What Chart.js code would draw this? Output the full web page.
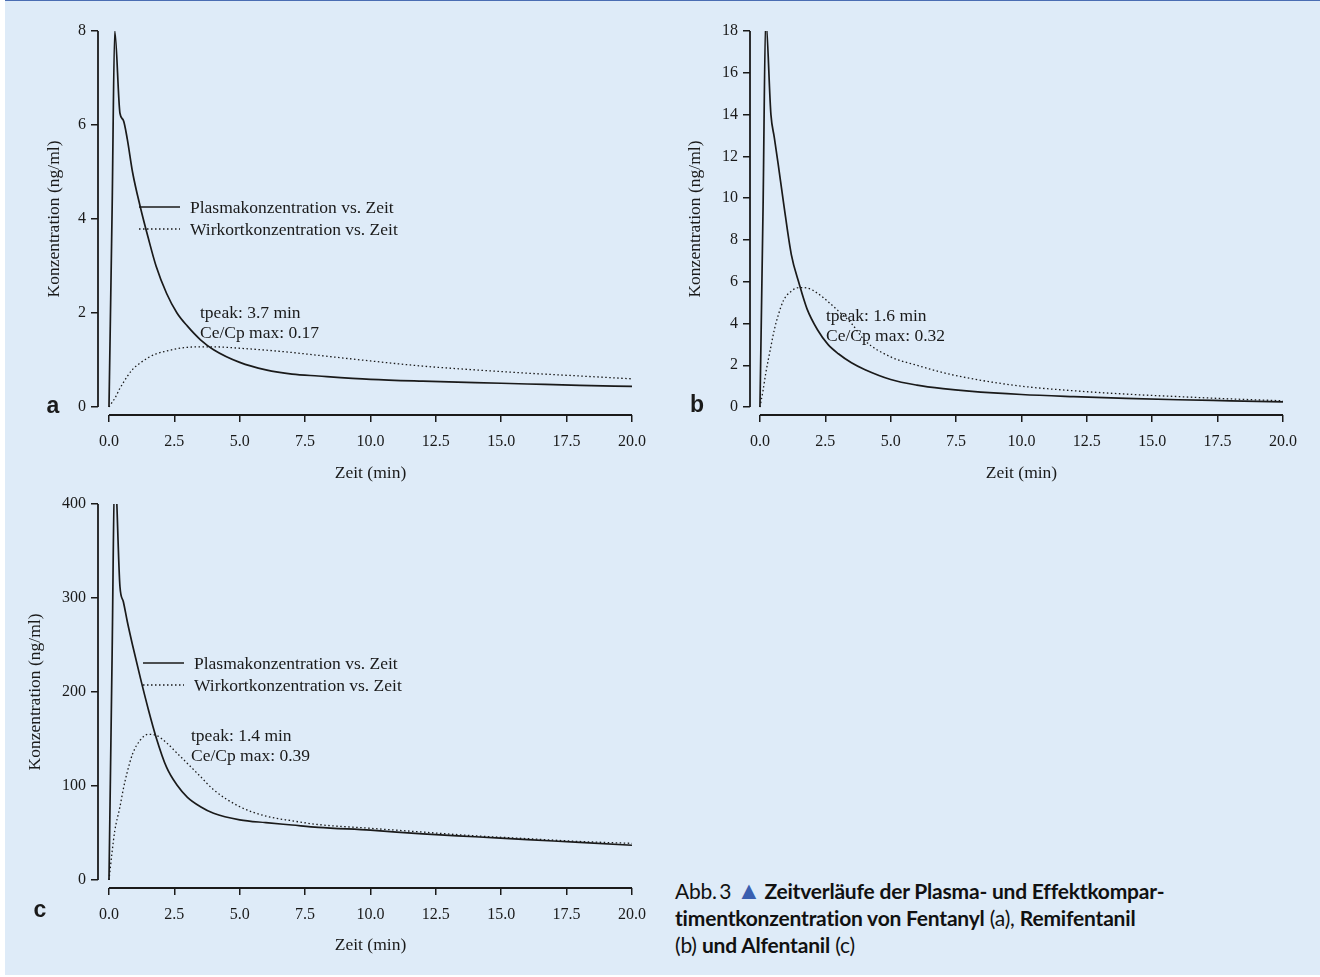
<!DOCTYPE html>
<html>
<head>
<meta charset="utf-8">
<script src="https://cdn.jsdelivr.net/npm/chart.js@4"></script>
<style>
  html, body { margin: 0; padding: 0; background: #fff; }
  #page {
    position: relative; width: 1315px; height: 974px; margin-left: 5px;
    background: #deebf8; border-top: 1px solid #4a6db3; overflow: hidden;
  }
  canvas { position: absolute; }
  #caption {
    position: absolute; left: 670px; top: 876px; width: 600px;
    font-family: Lato, "Noto Sans", sans-serif; font-size: 21px; line-height: 27px;
    color: #111; letter-spacing: -0.2px; white-space: nowrap;
  }
  #caption b { font-weight: 700; }
  #caption .tri { color: #3a5fb0; font-size: 25px; line-height: 20px; letter-spacing: -2px; }
</style>
</head>
<body>
<div id="page">
  <canvas id="chartA" style="left:-5px;top:-1px"></canvas>
  <canvas id="chartB" style="left:655px;top:-1px"></canvas>
  <canvas id="chartC" style="left:-5px;top:479px"></canvas>
  <div id="caption">Abb.&#8201;3 <span class="tri">&#9650;</span> <b>Zeitverläufe der Plasma- und Effektkompar-<br>timentkonzentration von Fentanyl</b> (a), <b>Remifentanil</b><br>(b) <b>und Alfentanil</b> (c)</div>
</div>
<script>
// Zeitpunkte (min), gemeinsam für alle drei Panels
const zeit = [0, 0.12, 0.22, 0.42, 0.55, 0.7, 0.9, 1.2, 1.5, 1.8, 2.2, 2.6, 3.0, 3.5, 4.0, 5.0, 6.0, 7.0, 8.0, 10, 12, 14, 16, 18, 20];

// (a) Fentanyl
const plasmaA  = [0, 4.2, 8.0, 6.25, 6.1, 5.7, 5.0, 4.25, 3.6, 3.0, 2.42, 2.0, 1.72, 1.43, 1.22, 0.95, 0.79, 0.70, 0.66, 0.59, 0.55, 0.52, 0.49, 0.46, 0.44];
const wirkortA = [0, 0.1, 0.18, 0.4, 0.52, 0.65, 0.8, 0.94, 1.05, 1.13, 1.19, 1.24, 1.27, 1.28, 1.28, 1.25, 1.21, 1.16, 1.10, 0.98, 0.87, 0.79, 0.72, 0.66, 0.60];

// (b) Remifentanil
const plasmaB  = [0, 9.6, 18.6, 14.0, 12.9, 11.6, 9.8, 7.3, 5.9, 4.7, 3.7, 3.0, 2.55, 2.12, 1.8, 1.32, 1.05, 0.88, 0.76, 0.60, 0.50, 0.42, 0.35, 0.30, 0.25];
const wirkortB = [0, 0.8, 1.6, 2.9, 3.7, 4.4, 5.1, 5.55, 5.72, 5.7, 5.45, 5.05, 4.6, 4.0, 3.2, 2.4, 2.0, 1.65, 1.38, 1.0, 0.78, 0.62, 0.5, 0.39, 0.30];

// (c) Alfentanil
const plasmaC  = [0, 240, 440, 312, 296, 275, 250, 215, 182, 152, 120, 101, 88, 78, 71, 64, 61, 58.5, 56, 53, 49, 46, 43, 40, 37];
const wirkortC = [0, 30, 52, 78, 97, 115, 134, 149, 155, 154, 146, 135, 124, 110, 96, 78, 68, 63, 59, 55, 51, 47, 44, 41, 39];

// Achsenbeschriftungen
const xTicks = [0, 2.5, 5, 7.5, 10, 12.5, 15, 17.5, 20];
const yTicksA = [0, 2, 4, 6, 8];
const yTicksB = [0, 2, 4, 6, 8, 10, 12, 14, 16, 18];
const yTicksC = [0, 100, 200, 300, 400];

const legendLabels = ['Plasmakonzentration vs. Zeit', 'Wirkortkonzentration vs. Zeit'];
const tpeakTexts = ['tpeak: 3.7 min', 'tpeak: 1.6 min', 'tpeak: 1.4 min'];
const ratioTexts = ['Ce/Cp max: 0.17', 'Ce/Cp max: 0.32', 'Ce/Cp max: 0.39'];

const SERIF = "'Liberation Serif', 'DejaVu Serif', serif";
const INK = '#1a1a1a';

const toPoints = (ys) => ys.map((y, i) => ({ x: zeit[i], y: y }));

// R-artige abgesetzte Achsen, Legende und Beschriftungen
const decorPlugin = {
    id: 'decor',
    afterDraw(chart, args, opts) {
        const ctx = chart.ctx;
        const xs = chart.scales.x, ys = chart.scales.y;
        const area = chart.chartArea;
        ctx.save();
        ctx.strokeStyle = INK;
        ctx.lineWidth = 1.8;
        // y-Achse
        ctx.beginPath();
        ctx.moveTo(area.left, ys.getPixelForValue(opts.yTicks[0]));
        ctx.lineTo(area.left, ys.getPixelForValue(opts.yTicks[opts.yTicks.length - 1]));
        ctx.stroke();
        // x-Achse
        ctx.beginPath();
        ctx.moveTo(xs.getPixelForValue(xTicks[0]), area.bottom);
        ctx.lineTo(xs.getPixelForValue(xTicks[xTicks.length - 1]), area.bottom);
        ctx.stroke();

        ctx.fillStyle = INK;
        ctx.font = '17.5px ' + SERIF;
        ctx.textBaseline = 'middle';

        // Legende
        if (opts.legend) {
            const lg = opts.legend;
            chart.data.datasets.forEach((ds, i) => {
                const y = lg.y + i * 22;
                ctx.save();
                ctx.lineWidth = ds.borderWidth;
                ctx.setLineDash(ds.borderDash || []);
                ctx.beginPath();
                ctx.moveTo(lg.x, y);
                ctx.lineTo(lg.x + 41, y);
                ctx.stroke();
                ctx.restore();
                ctx.textAlign = 'left';
                ctx.fillText(legendLabels[i], lg.x + 51, y + 1);
            });
        }

        // tpeak / Ce/Cp
        ctx.textAlign = 'left';
        ctx.fillText(opts.notes[0], opts.note.x, opts.note.y);
        ctx.fillText(opts.notes[1], opts.note.x, opts.note.y + 20);

        // Achsentitel
        ctx.textAlign = 'center';
        ctx.fillText('Zeit (min)', (xs.getPixelForValue(0) + xs.getPixelForValue(20)) / 2, opts.xTitleY);
        ctx.save();
        ctx.translate(opts.yTitleX, (ys.getPixelForValue(opts.yTicks[0]) + ys.getPixelForValue(opts.yTicks[opts.yTicks.length - 1])) / 2);
        ctx.rotate(-Math.PI / 2);
        ctx.fillText('Konzentration (ng/ml)', 0, 0);
        ctx.restore();

        // Panel-Buchstabe
        ctx.font = 'bold 23px "Liberation Sans", sans-serif';
        ctx.fillText(opts.letter.t, opts.letter.x, opts.letter.y);
        ctx.restore();
    }
};

function makePanel(id, cfg) {
    const canvas = document.getElementById(id);
    canvas.width = cfg.w;
    canvas.height = cfg.h;
    canvas.style.width = cfg.w + 'px';
    canvas.style.height = cfg.h + 'px';
    return new Chart(canvas, {
        type: 'line',
        data: {
            datasets: [
                { data: toPoints(cfg.plasma), borderColor: INK, borderWidth: 1.7, pointRadius: 0, cubicInterpolationMode: 'monotone' },
                { data: toPoints(cfg.wirkort), borderColor: INK, borderWidth: 1.3, borderDash: [1.5, 2.5], pointRadius: 0, cubicInterpolationMode: 'monotone' }
            ]
        },
        options: {
            responsive: false,
            animation: false,
            layout: { padding: { top: cfg.area.top, right: cfg.w - cfg.area.right, left: 0, bottom: 0 } },
            plugins: {
                legend: { display: false },
                tooltip: { enabled: false },
                decor: cfg.decor
            },
            scales: {
                x: {
                    type: 'linear',
                    min: cfg.xMin, max: 20,
                    afterBuildTicks: (s) => { s.ticks = xTicks.map(v => ({ value: v })); },
                    afterFit: (s) => { s.height = cfg.h - cfg.area.bottom; },
                    grid: { drawOnChartArea: false, drawTicks: true, tickLength: 7, color: INK, lineWidth: 1.5 },
                    border: { display: false },
                    ticks: { color: INK, font: { family: SERIF, size: 16 }, padding: 10, maxRotation: 0, autoSkip: false, callback: v => v.toFixed(1) }
                },
                y: {
                    type: 'linear',
                    min: cfg.yMin, max: cfg.yTicks[cfg.yTicks.length - 1],
                    afterBuildTicks: (s) => { s.ticks = cfg.yTicks.map(v => ({ value: v })); },
                    afterFit: (s) => { s.width = cfg.area.left; },
                    grid: { drawOnChartArea: false, drawTicks: true, tickLength: 7, color: INK, lineWidth: 1.5 },
                    border: { display: false },
                    ticks: { color: INK, font: { family: SERIF, size: 16 }, padding: 5, autoSkip: false, callback: v => String(v) }
                }
            }
        },
        plugins: [decorPlugin]
    });
}

// Panel a (Fentanyl)
makePanel('chartA', {
    w: 660, h: 490,
    area: { left: 98, top: 31, right: 632, bottom: 415 },
    xMin: -0.42, yMin: -0.17, yTicks: yTicksA,
    plasma: plasmaA, wirkort: wirkortA,
    decor: {
        yTicks: yTicksA,
        legend: { x: 139, y: 207 },
        notes: [tpeakTexts[0], ratioTexts[0]], note: { x: 200, y: 313 },
        xTitleY: 473, yTitleX: 54,
        letter: { t: 'a', x: 53, y: 407 }
    }
});

// Panel b (Remifentanil)
makePanel('chartB', {
    w: 660, h: 490,
    area: { left: 90, top: 31, right: 623, bottom: 415 },
    xMin: -0.38, yMin: -0.38, yTicks: yTicksB,
    plasma: plasmaB, wirkort: wirkortB,
    decor: {
        yTicks: yTicksB,
        legend: null,
        notes: [tpeakTexts[1], ratioTexts[1]], note: { x: 166, y: 316 },
        xTitleY: 473, yTitleX: 35,
        letter: { t: 'b', x: 37, y: 406 }
    }
});

// Panel c (Alfentanil)
makePanel('chartC', {
    w: 660, h: 497,
    area: { left: 98, top: 24, right: 632, bottom: 408 },
    xMin: -0.42, yMin: -8.5, yTicks: yTicksC,
    plasma: plasmaC, wirkort: wirkortC,
    decor: {
        yTicks: yTicksC,
        legend: { x: 143, y: 183 },
        notes: [tpeakTexts[2], ratioTexts[2]], note: { x: 191, y: 256 },
        xTitleY: 465, yTitleX: 35,
        letter: { t: 'c', x: 40, y: 431 }
    }
});
</script>
</body>
</html>
